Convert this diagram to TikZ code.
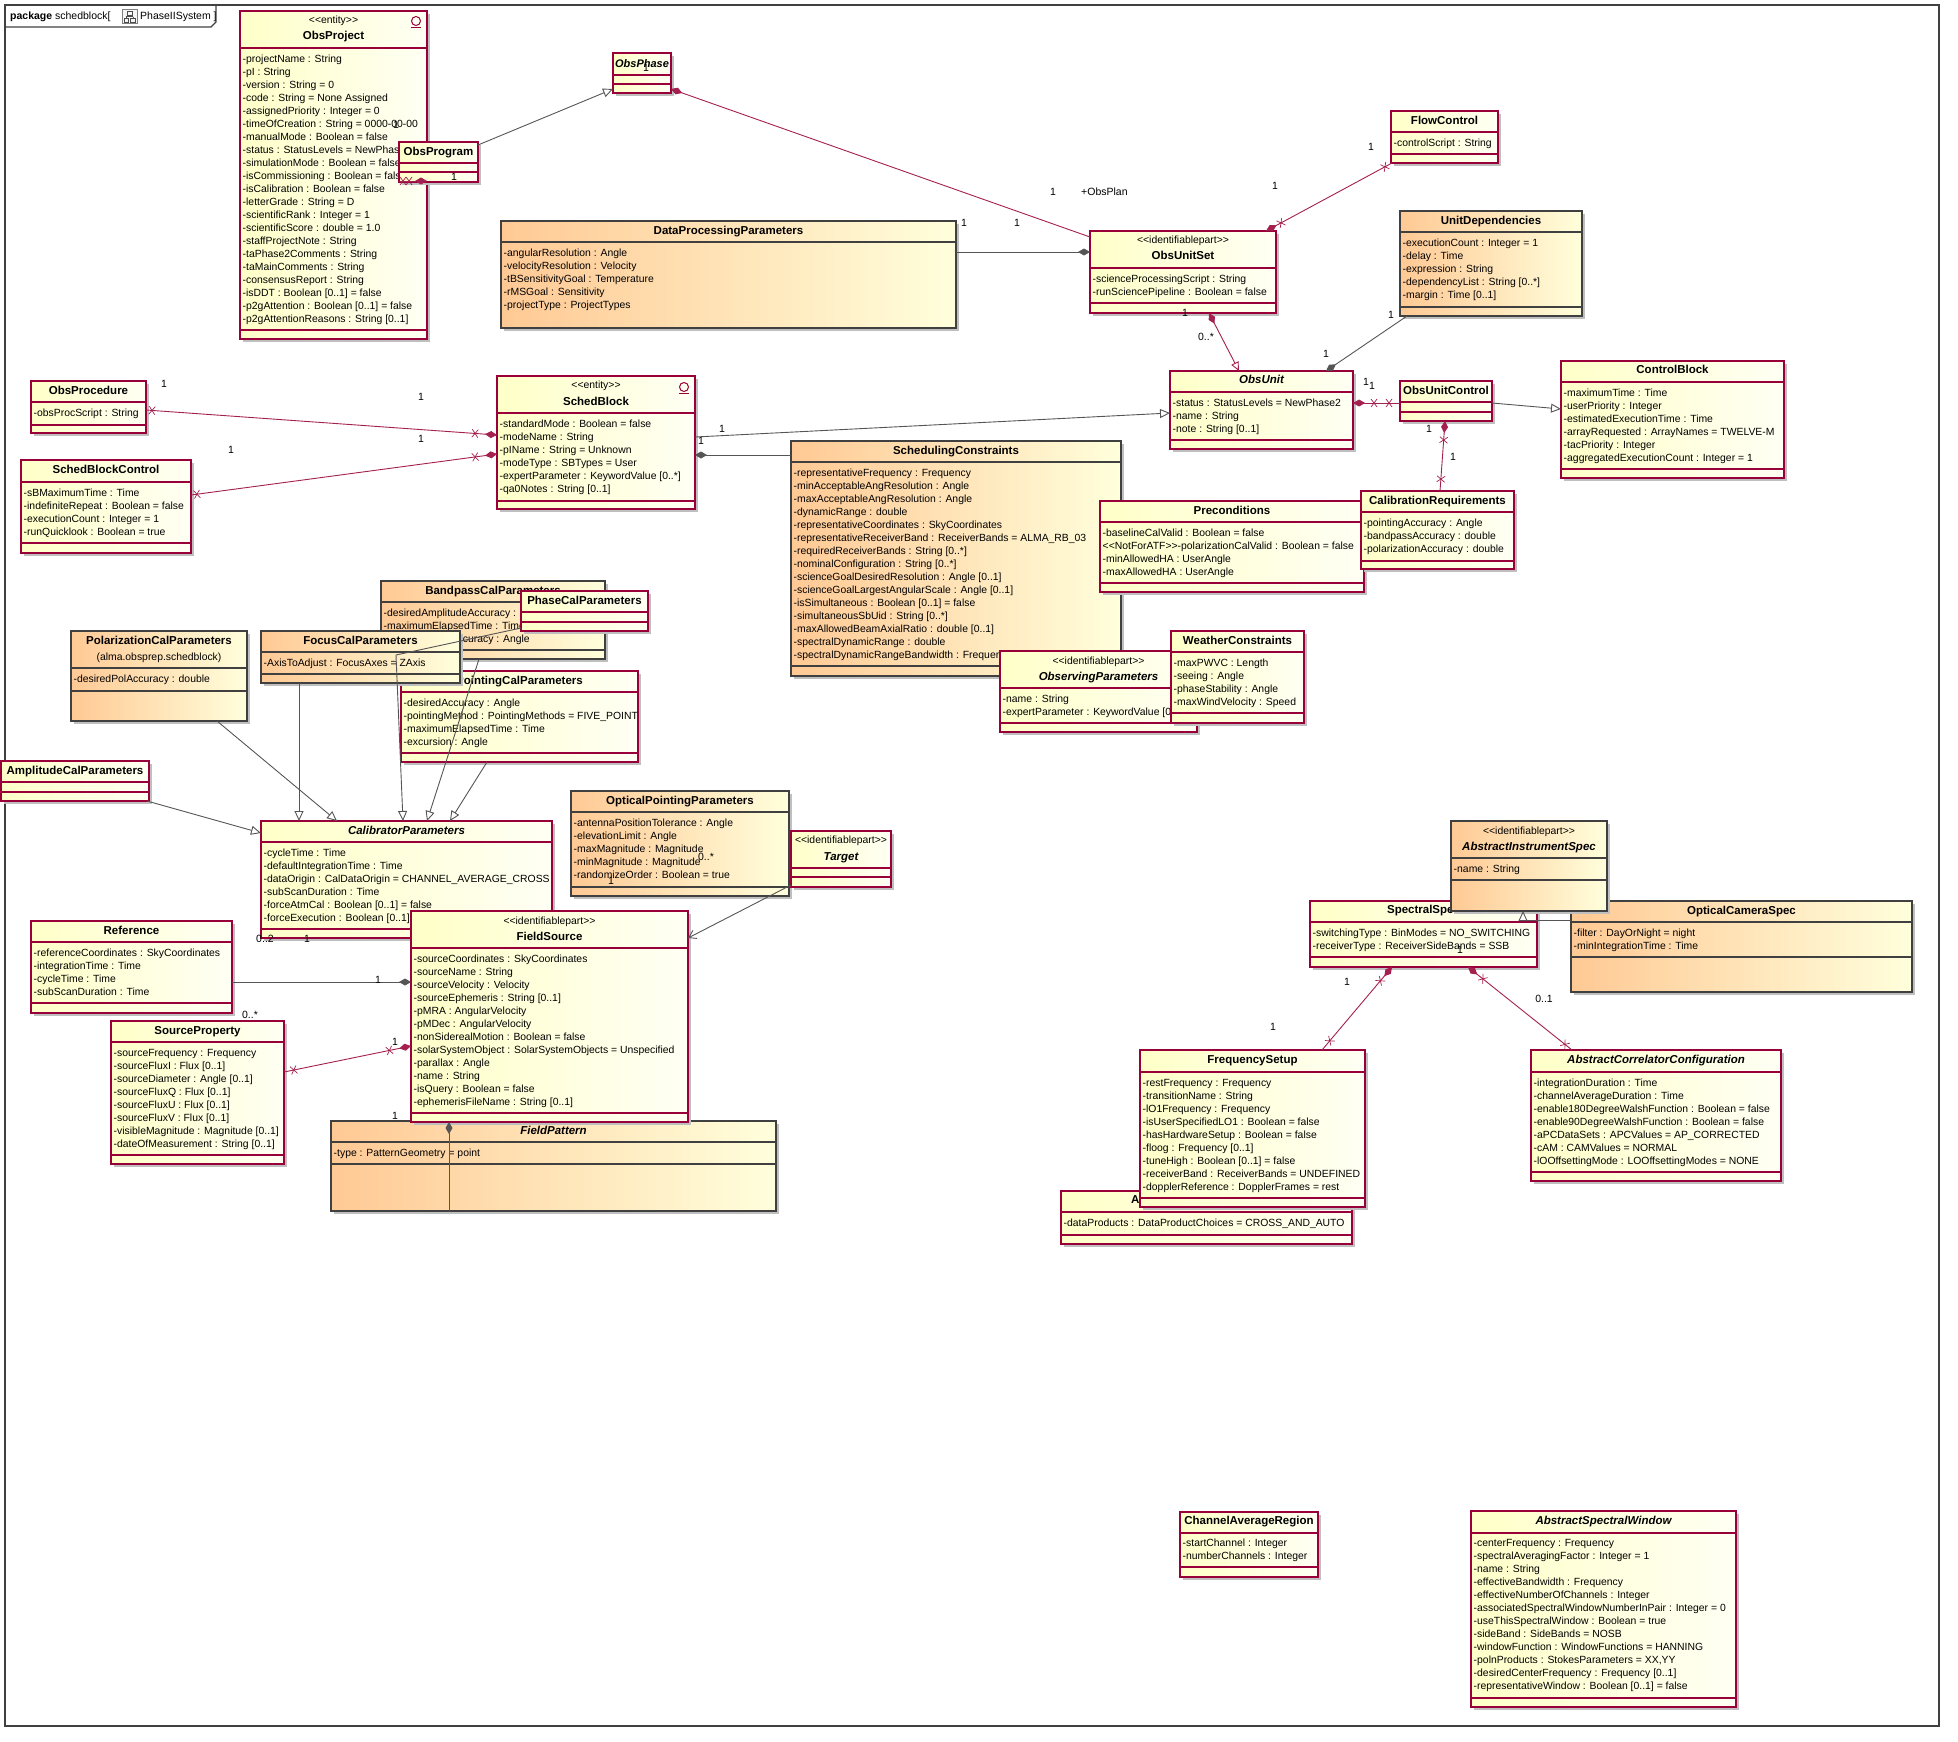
\documentclass[tikz,border=0pt]{standalone}
\usepackage{fontspec}
\setmainfont{Liberation Sans}
\usetikzlibrary{arrows.meta,shadows,decorations.markings}
\definecolor{ured}{HTML}{99003A}
\definecolor{ugray}{HTML}{404040}
\definecolor{lred}{HTML}{A3204F}
\definecolor{lgray}{HTML}{555555}
\definecolor{yelA}{HTML}{FFFFC8}
\definecolor{yelB}{HTML}{FFFFF4}
\definecolor{orA}{HTML}{FFC994}
\definecolor{orB}{HTML}{FFFFDC}
\tikzset{
 shd/.style={drop shadow={shadow xshift=3pt,shadow yshift=-3pt,fill=black!25,opacity=1}},
 ybox/.style={draw=ured,line width=1.3pt,left color=yelA,right color=yelB,inner sep=0pt,outer sep=0pt,shd},
 obox/.style={draw=ugray,line width=1.3pt,left color=orA,right color=orB,inner sep=0pt,outer sep=0pt,shd},
 ysep/.style={draw=ured,line width=1.3pt},
 osep/.style={draw=ugray,line width=1.3pt},
 attr/.style={anchor=base west,inner sep=0pt,xshift=2.5pt,yshift=-4pt,font=\fontsize{10.4}{13}\selectfont},
 cn/.style={anchor=base,inner sep=0pt,yshift=-4pt,font=\fontsize{11.5}{13}\selectfont\bfseries},
 ster/.style={anchor=base,inner sep=0pt,yshift=-3.5pt,font=\fontsize{10.4}{13}\selectfont},
 lbl/.style={inner sep=0pt,font=\fontsize{10.5}{13}\selectfont},
 rl/.style={draw=lred,line width=0.9pt},
 gl/.style={draw=lgray,line width=0.9pt},
 gen/.style={-{Triangle[length=10pt,width=9pt,fill=white]}},
 ds/.style={{Diamond[length=12pt,width=7pt]}-},
 de/.style={-{Diamond[length=12pt,width=7pt]}},
 xm/.style={postaction={decorate,decoration={markings,mark=at position #1 with {\draw[-,lred,line width=0.7pt] (-3pt,-4pt)--(3pt,4pt) (-3pt,4pt)--(3pt,-4pt);}}}},
}
\newcommand{\umlbox}[6]{\node[#2box,anchor=north west,minimum width={#5-#3},minimum height={#6-#4}] (#1) at (#3,#4) {};}
\newcommand{\umlseps}[3]{\foreach \sy in {#3} {\draw[#2sep] (#1.west |- 0,\sy) -- (#1.east |- 0,\sy);}}
\newcommand{\umlname}[3]{\node[cn] (#1n) at (#1.north |- 0,#2) {#3};}
\newcommand{\umlster}[3]{\node[ster] (#1s) at (#1.north |- 0,#2) {#3};}
\newcommand{\umlattrs}[3]{\foreach \atx [count=\ati] in {#3} {\pgfmathsetmacro\yy{#2+13*(\ati-1)}\node[attr] (#1a\ati) at (#1.west |- 0,\yy) {\atx};}}
\newcommand{\enticon}[3]{\draw[ured,line width=1pt] (#2,#3) circle[radius=4.5pt]; \draw[ured,line width=1pt] (#2-5,#3+6) -- (#2+5,#3+6); \coordinate (#1) at (#2,#3);}
\begin{document}
\begin{tikzpicture}[x=1pt,y=-1pt]
\useasboundingbox (0,0) rectangle (1958,1741);
% frame
\draw[ugray,line width=1.3pt] (5,5) rectangle (1939,1726);
\draw[ugray,line width=1.3pt] (5,27) -- (211,27) -- (216,22) -- (216,5);
\node[anchor=base west,inner sep=0pt,font=\fontsize{10.5}{13}\selectfont] (pkg) at (10,19) {\textbf{package} schedblock[};
\draw[gray,fill=gray!8,line width=0.6pt] (122,9) rectangle (137,23);
\draw[gray!60!black,line width=0.6pt] (127,11) rectangle (132,15) (124,18) rectangle (128.5,22) (130.5,18) rectangle (135,22) (129.5,15) -- (129.5,16.5) (126,16.5) -- (133,16.5) (126,16.5) -- (126,18) (133,16.5) -- (133,18);
\node[anchor=base west,inner sep=0pt,font=\fontsize{10.5}{13}\selectfont] (pkg2) at (140,19) {PhaseIISystem ]};

% ObsProject
\umlbox{obsproject}{y}{240}{11}{427}{339}
\umlster{obsproject}{20}{<{}<entity>{}>}
\umlname{obsproject}{35}{ObsProject}
\enticon{ic1}{416}{21}
\umlseps{obsproject}{y}{48,330}
\umlattrs{obsproject}{58}{-projectName : String, -pI : String, -version : String = 0, -code : String = None Assigned, -assignedPriority : Integer = 0, -timeOfCreation : String = 0000-00-00, -manualMode : Boolean = false, -status : StatusLevels = NewPhase2, -simulationMode : Boolean = false, -isCommissioning : Boolean = false, -isCalibration : Boolean = false, -letterGrade : String = D, -scientificRank : Integer = 1, -scientificScore : double = 1.0, -staffProjectNote : String, -taPhase2Comments : String, -taMainComments : String, -consensusReport : String, -isDDT : Boolean [0..1] = false, -p2gAttention : Boolean [0..1] = false, -p2gAttentionReasons : String [0..1]}
% ObsProgram
\umlbox{obsprogram}{y}{399}{142}{478}{182}
\umlname{obsprogram}{151}{ObsProgram}
\umlseps{obsprogram}{y}{163,172}
% ObsPhase
\umlbox{obsphase}{y}{613}{53}{671}{93}
\node[cn,font=\fontsize{11}{13}\selectfont\bfseries\itshape] (obsphasen) at (obsphase.north |- 0,63) {ObsPhase};
\umlseps{obsphase}{y}{75,84}
% DataProcessingParameters
\umlbox{dpp}{o}{501}{221}{956}{328}
\umlname{dpp}{230}{DataProcessingParameters}
\umlseps{dpp}{o}{242}
\umlattrs{dpp}{252}{-angularResolution : Angle, -velocityResolution : Velocity, -tBSensitivityGoal : Temperature, -rMSGoal : Sensitivity, -projectType : ProjectTypes}
% ObsUnitSet
\umlbox{obsunitset}{y}{1090}{231}{1276}{313}
\umlster{obsunitset}{240}{<{}<identifiablepart>{}>}
\umlname{obsunitset}{255}{ObsUnitSet}
\umlseps{obsunitset}{y}{268,303}
\umlattrs{obsunitset}{278}{-scienceProcessingScript : String, -runSciencePipeline : Boolean = false}
% FlowControl
\umlbox{flowcontrol}{y}{1391}{111}{1498}{163}
\umlname{flowcontrol}{120}{FlowControl}
\umlseps{flowcontrol}{y}{132,154}
\umlattrs{flowcontrol}{142}{-controlScript : String}
% UnitDependencies
\umlbox{ud}{o}{1400}{211}{1582}{316}
\umlname{ud}{220}{UnitDependencies}
\umlseps{ud}{o}{232,307}
\umlattrs{ud}{242}{-executionCount : Integer = 1, -delay : Time, -expression : String, -dependencyList : String [0..*], -margin : Time [0..1]}
% ObsUnit
\umlbox{obsunit}{y}{1170}{371}{1353}{449}
\umlname{obsunit}{379}{\itshape ObsUnit}
\umlseps{obsunit}{y}{392,440}
\umlattrs{obsunit}{402}{-status : StatusLevels = NewPhase2, -name : String, -note : String [0..1]}
% ObsUnitControl
\umlbox{ouc}{y}{1400}{381}{1492}{421}
\umlname{ouc}{390}{ObsUnitControl}
\umlseps{ouc}{y}{402,412}
% ControlBlock
\umlbox{controlblock}{y}{1561}{361}{1784}{478}
\umlname{controlblock}{369}{ControlBlock}
\umlseps{controlblock}{y}{382,469}
\umlattrs{controlblock}{392}{-maximumTime : Time, -userPriority : Integer, -estimatedExecutionTime : Time, -arrayRequested : ArrayNames = TWELVE-M, -tacPriority : Integer, -aggregatedExecutionCount : Integer = 1}
% SchedulingConstraints
\umlbox{schedconstr}{o}{791}{441}{1121}{676}
\umlname{schedconstr}{450}{SchedulingConstraints}
\umlseps{schedconstr}{o}{462,666}
\umlattrs{schedconstr}{472}{-representativeFrequency : Frequency, -minAcceptableAngResolution : Angle, -maxAcceptableAngResolution : Angle, -dynamicRange : double, -representativeCoordinates : SkyCoordinates, -representativeReceiverBand : ReceiverBands = ALMA\_RB\_03, -requiredReceiverBands : String [0..*], -nominalConfiguration : String [0..*], -scienceGoalDesiredResolution : Angle [0..1], -scienceGoalLargestAngularScale : Angle [0..1], -isSimultaneous : Boolean [0..1] = false, -simultaneousSbUid : String [0..*], -maxAllowedBeamAxialRatio : double [0..1], -spectralDynamicRange : double, -spectralDynamicRangeBandwidth : Frequency [0..1]}
% Preconditions
\umlbox{preconditions}{y}{1100}{501}{1364}{592}
\umlname{preconditions}{510}{Preconditions}
\umlseps{preconditions}{y}{522,583}
\umlattrs{preconditions}{532}{-baselineCalValid : Boolean = false, <{}<NotForATF>{}>-polarizationCalValid : Boolean = false, -minAllowedHA : UserAngle, -maxAllowedHA : UserAngle}
% CalibrationRequirements
\umlbox{calreq}{y}{1361}{491}{1514}{569}
\umlname{calreq}{500}{CalibrationRequirements}
\umlseps{calreq}{y}{512,561}
\umlattrs{calreq}{522}{-pointingAccuracy : Angle, -bandpassAccuracy : double, -polarizationAccuracy : double}
% ObservingParameters
\umlbox{obsparams}{y}{1000}{651}{1197}{732}
\umlster{obsparams}{661}{<{}<identifiablepart>{}>}
\umlname{obsparams}{676}{\itshape ObservingParameters}
\umlseps{obsparams}{y}{688,723}
\umlattrs{obsparams}{698}{-name : String, -expertParameter : KeywordValue [0..*]}
% WeatherConstraints
\umlbox{weather}{y}{1171}{631}{1304}{723}
\umlname{weather}{640}{WeatherConstraints}
\umlseps{weather}{y}{652,713}
\umlattrs{weather}{662}{-maxPWVC : Length, -seeing : Angle, -phaseStability : Angle, -maxWindVelocity : Speed}
% SchedBlock
\umlbox{schedblock}{y}{497}{376}{695}{509}
\umlster{schedblock}{385}{<{}<entity>{}>}
\umlname{schedblock}{401}{SchedBlock}
\enticon{ic2}{684}{387}
\umlseps{schedblock}{y}{413,501}
\umlattrs{schedblock}{423}{-standardMode : Boolean = false, -modeName : String, -pIName : String = Unknown, -modeType : SBTypes = User, -expertParameter : KeywordValue [0..*], -qa0Notes : String [0..1]}
% ObsProcedure
\umlbox{obsprocedure}{y}{31}{381}{146}{433}
\umlname{obsprocedure}{390}{ObsProcedure}
\umlseps{obsprocedure}{y}{402,425}
\umlattrs{obsprocedure}{412}{-obsProcScript : String}
% SchedBlockControl
\umlbox{sbc}{y}{21}{460}{191}{553}
\umlname{sbc}{469}{SchedBlockControl}
\umlseps{sbc}{y}{482,543}
\umlattrs{sbc}{492}{-sBMaximumTime : Time, -indefiniteRepeat : Boolean = false, -executionCount : Integer = 1, -runQuicklook : Boolean = true}
% BandpassCalParameters
\umlbox{bandpass}{o}{381}{581}{605}{659}
\umlname{bandpass}{590}{BandpassCalParameters}
\umlseps{bandpass}{o}{602,650}
\umlattrs{bandpass}{612}{-desiredAmplitudeAccuracy : double, -maximumElapsedTime : Time, -desiredPhaseAccuracy : Angle}
% PhaseCalParameters
\umlbox{phasecal}{y}{521}{591}{648}{631}
\umlname{phasecal}{600}{PhaseCalParameters}
\umlseps{phasecal}{y}{612,622}
% PointingCalParameters
\umlbox{pointing}{y}{401}{671}{638}{762}
\umlname{pointing}{680}{PointingCalParameters}
\umlseps{pointing}{y}{692,753}
\umlattrs{pointing}{702}{-desiredAccuracy : Angle, -pointingMethod : PointingMethods = FIVE\_POINT, -maximumElapsedTime : Time, -excursion : Angle}
% FocusCalParameters
\umlbox{focus}{o}{261}{631}{460}{683}
\umlname{focus}{640}{FocusCalParameters}
\umlseps{focus}{o}{652,674}
\umlattrs{focus}{662}{-AxisToAdjust : FocusAxes = ZAxis}
% PolarizationCalParameters
\umlbox{polarization}{o}{71}{631}{247}{721}
\umlname{polarization}{640}{PolarizationCalParameters}
\node[ster,yshift=-0.5pt] (polarizationp) at (polarization.north |- 0,656) {(alma.obsprep.schedblock)};
\umlseps{polarization}{o}{668,691}
\umlattrs{polarization}{678}{-desiredPolAccuracy : double}
% AmplitudeCalParameters
\umlbox{amp}{y}{1}{761}{149}{801}
\umlname{amp}{770}{AmplitudeCalParameters}
\umlseps{amp}{y}{782,792}
% CalibratorParameters
\umlbox{calib}{y}{261}{821}{552}{938}
\umlname{calib}{830}{\itshape CalibratorParameters}
\umlseps{calib}{y}{842,929}
\umlattrs{calib}{852}{-cycleTime : Time, -defaultIntegrationTime : Time, -dataOrigin : CalDataOrigin = CHANNEL\_AVERAGE\_CROSS, -subScanDuration : Time, -forceAtmCal : Boolean [0..1] = false, -forceExecution : Boolean [0..1] = false}
% FieldPattern
\umlbox{fieldpattern}{o}{331}{1121}{776}{1211}
\umlname{fieldpattern}{1130}{\itshape FieldPattern}
\umlseps{fieldpattern}{o}{1142,1164}
\umlattrs{fieldpattern}{1152}{-type : PatternGeometry = point}
% FieldSource
\umlbox{fieldsource}{y}{411}{911}{688}{1122}
\umlster{fieldsource}{921}{<{}<identifiablepart>{}>}
\umlname{fieldsource}{936}{FieldSource}
\umlseps{fieldsource}{y}{948,1113}
\umlattrs{fieldsource}{958}{-sourceCoordinates : SkyCoordinates, -sourceName : String, -sourceVelocity : Velocity, -sourceEphemeris : String [0..1], -pMRA : AngularVelocity, -pMDec : AngularVelocity, -nonSiderealMotion : Boolean = false, -solarSystemObject : SolarSystemObjects = Unspecified, -parallax : Angle, -name : String, -isQuery : Boolean = false, -ephemerisFileName : String [0..1]}
% Reference
\umlbox{reference}{y}{31}{921}{232}{1013}
\umlname{reference}{930}{Reference}
\umlseps{reference}{y}{942,1003}
\umlattrs{reference}{952}{-referenceCoordinates : SkyCoordinates, -integrationTime : Time, -cycleTime : Time, -subScanDuration : Time}
% SourceProperty
\umlbox{sourceprop}{y}{111}{1021}{284}{1164}
\umlname{sourceprop}{1030}{SourceProperty}
\umlseps{sourceprop}{y}{1042,1155}
\umlattrs{sourceprop}{1052}{-sourceFrequency : Frequency, -sourceFluxI : Flux [0..1], -sourceDiameter : Angle [0..1], -sourceFluxQ : Flux [0..1], -sourceFluxU : Flux [0..1], -sourceFluxV : Flux [0..1], -visibleMagnitude : Magnitude [0..1], -dateOfMeasurement : String [0..1]}
% OpticalPointingParameters
\umlbox{opp}{o}{571}{791}{789}{896}
\umlname{opp}{800}{OpticalPointingParameters}
\umlseps{opp}{o}{812,887}
\umlattrs{opp}{822}{-antennaPositionTolerance : Angle, -elevationLimit : Angle, -maxMagnitude : Magnitude, -minMagnitude : Magnitude, -randomizeOrder : Boolean = true}
% Target
\umlbox{target}{y}{791}{831}{891}{887}
\umlster{target}{840}{<{}<identifiablepart>{}>}
\umlname{target}{856}{\itshape Target}
\umlseps{target}{y}{868,877}
% SpectralSpec
\umlbox{spectralspec}{y}{1310}{901}{1537}{967}
\umlname{spectralspec}{909}{SpectralSpec}
\umlseps{spectralspec}{y}{922,957}
\umlattrs{spectralspec}{932}{-switchingType : BinModes = NO\_SWITCHING, -receiverType : ReceiverSideBands = SSB}
% OpticalCameraSpec
\umlbox{ocs}{o}{1571}{901}{1912}{992}
\umlname{ocs}{910}{OpticalCameraSpec}
\umlseps{ocs}{o}{922,957}
\umlattrs{ocs}{932}{-filter : DayOrNight = night, -minIntegrationTime : Time}
% AbstractInstrumentSpec
\umlbox{ais}{o}{1451}{821}{1607}{911}
\umlster{ais}{831}{<{}<identifiablepart>{}>}
\umlname{ais}{846}{\itshape AbstractInstrumentSpec}
\umlseps{ais}{o}{858,880}
\umlattrs{ais}{868}{-name : String}
% hidden box
\umlbox{abox}{y}{1061}{1191}{1352}{1244}
\node[cn,anchor=base west] (aboxn) at (1131,1199) {A};
\umlseps{abox}{y}{1212,1235}
\umlattrs{abox}{1222}{-dataProducts : DataProductChoices = CROSS\_AND\_AUTO}
% FrequencySetup
\umlbox{freqsetup}{y}{1140}{1050}{1365}{1207}
\umlname{freqsetup}{1059}{FrequencySetup}
\umlseps{freqsetup}{y}{1072,1198}
\umlattrs{freqsetup}{1082}{-restFrequency : Frequency, -transitionName : String, -lO1Frequency : Frequency, -isUserSpecifiedLO1 : Boolean = false, -hasHardwareSetup : Boolean = false, -floog : Frequency [0..1], -tuneHigh : Boolean [0..1] = false, -receiverBand : ReceiverBands = UNDEFINED, -dopplerReference : DopplerFrames = rest}
% AbstractCorrelatorConfiguration
\umlbox{acc}{y}{1531}{1050}{1781}{1181}
\umlname{acc}{1059}{\itshape AbstractCorrelatorConfiguration}
\umlseps{acc}{y}{1072,1172}
\umlattrs{acc}{1082}{-integrationDuration : Time, -channelAverageDuration : Time, -enable180DegreeWalshFunction : Boolean = false, -enable90DegreeWalshFunction : Boolean = false, -aPCDataSets : APCValues = AP\_CORRECTED, -cAM : CAMValues = NORMAL, -lOOffsettingMode : LOOffsettingModes = NONE}
% ChannelAverageRegion
\umlbox{car}{y}{1180}{1512}{1318}{1577}
\umlname{car}{1520}{ChannelAverageRegion}
\umlseps{car}{y}{1533,1567}
\umlattrs{car}{1542}{-startChannel : Integer, -numberChannels : Integer}
% AbstractSpectralWindow
\umlbox{asw}{y}{1471}{1511}{1736}{1707}
\umlname{asw}{1520}{\itshape AbstractSpectralWindow}
\umlseps{asw}{y}{1533,1698}
\umlattrs{asw}{1542}{-centerFrequency : Frequency, -spectralAveragingFactor : Integer = 1, -name : String, -effectiveBandwidth : Frequency, -effectiveNumberOfChannels : Integer, -associatedSpectralWindowNumberInPair : Integer = 0, -useThisSpectralWindow : Boolean = true, -sideBand : SideBands = NOSB, -windowFunction : WindowFunctions = HANNING, {-polnProducts : StokesParameters = XX,YY}, -desiredCenterFrequency : Frequency [0..1], -representativeWindow : Boolean [0..1] = false}

% ---------------- connectors
\draw[rl,de,xm=4pt,xm=10pt] (obsprogram.west |- 0,181) -- (obsproject.east |- 0,181);
\draw[gl,gen] (obsprogram.east |- 0,145) -- (obsphase.west |- 0,89);
\draw[rl,ds] (obsphase.east |- 0,89) -- (obsunitset.west |- 0,237);
\draw[gl,de] (dpp.east |- 0,252) -- (obsunitset.west |- 0,252);
\draw[rl,de,xm=8pt,xm=-17pt] (1392,0 |- flowcontrol.south) -- (1266,0 |- obsunitset.north);
\draw[gl,de] (1407,0 |- ud.south) -- (1326,0 |- obsunit.north);
\draw[rl,{Diamond[length=12pt,width=7pt]}-{Triangle[open,length=9pt,width=8pt]}] (1209,0 |- obsunitset.south) -- (1239,0 |- obsunit.north);
\draw[gl,gen] (schedblock.east |- 0,437) -- (obsunit.west |- 0,413);
\draw[gl,ds] (schedblock.east |- 0,455) -- (schedconstr.west |- 0,455);
\draw[rl,ds,xm=21pt,xm=36pt] (obsunit.east |- 0,403) -- (ouc.west |- 0,403);
\draw[gl,gen] (ouc.east |- 0,403) -- (controlblock.west |- 0,409);
\draw[rl,ds,xm=19pt,xm=-12pt] (1445,0 |- ouc.south) -- (1440,0 |- calreq.north);
\draw[rl,de,xm=6pt,xm=-22pt] (obsprocedure.east |- 0,410) -- (schedblock.west |- 0,435);
\draw[rl,de,xm=6pt,xm=-22pt] (sbc.east |- 0,495) -- (schedblock.west |- 0,454);
\draw[gl,gen] (147,0 |- amp.south) -- (calib.west |- 0,833);
\draw[gl,gen] (217,0 |- polarization.south) -- (337,0 |- calib.north);
\draw[gl,gen] (299,0 |- focus.south) -- (299,0 |- calib.north);
\coordinate (pcbend) at (396,655);
\draw[gl,gen] (phasecal.west |- 0,628) -- (pcbend) -- (403,0 |- calib.north);
\draw[gl,gen] (479,0 |- bandpass.south) -- (427,0 |- calib.north);
\draw[gl,gen] (487,0 |- pointing.south) -- (450,0 |- calib.north);
\draw[gl,-{Straight Barb[length=7pt,width=9pt]}] (target.west |- 0,885) -- (fieldsource.east |- 0,938);
\draw[gl,de] (reference.east |- 0,982) -- (fieldsource.west |- 0,982);
\draw[rl,de,xm=10pt,xm=-22pt] (sourceprop.east |- 0,1072) -- (fieldsource.west |- 0,1046);
\draw[gl,ds] (449,0 |- fieldsource.south) -- (449,0 |- fieldpattern.south);
\draw[gl,gen] (ocs.west |- 0,920) -| (1523,0 |- ais.south);
\draw[rl,ds,xm=18pt,xm=-12pt] (1392,0 |- spectralspec.south) -- (1322,0 |- freqsetup.north);
\draw[rl,ds,xm=19pt,xm=-9pt] (1468,0 |- spectralspec.south) -- (1572,0 |- acc.north);

% ---------------- multiplicity labels
\node[lbl] (m1) at (396,125) {1};
\node[lbl] (m2) at (454,177) {1};
\node[lbl] (m3) at (646,68) {1};
\node[lbl] (m4) at (1053,192) {1};
\node[lbl,anchor=west] (m5) at (1081,192) {+ObsPlan};
\node[lbl] (m6) at (964,223) {1};
\node[lbl] (m7) at (1017,223) {1};
\node[lbl] (m8) at (1371,147) {1};
\node[lbl] (m9) at (1275,186) {1};
\node[lbl] (m10) at (1185,313) {1};
\node[lbl] (m11) at (1206,337) {0..*};
\node[lbl] (m12) at (1391,315) {1};
\node[lbl] (m13) at (1326,354) {1};
\node[lbl] (m14) at (1366,382) {1};
\node[lbl] (m15) at (1372,386) {1};
\node[lbl] (m16) at (1429,429) {1};
\node[lbl] (m17) at (1453,457) {1};
\node[lbl] (m18) at (701,441) {1};
\node[lbl] (m19) at (722,429) {1};
\node[lbl] (m20) at (164,384) {1};
\node[lbl] (m21) at (421,397) {1};
\node[lbl] (m22) at (231,450) {1};
\node[lbl] (m23) at (421,439) {1};
\node[lbl] (m24) at (265,939) {0..2};
\node[lbl] (m25) at (307,939) {1};
\node[lbl] (m26) at (706,857) {0..*};
\node[lbl] (m27) at (611,881) {1};
\node[lbl] (m28) at (378,980) {1};
\node[lbl] (m29) at (250,1015) {0..*};
\node[lbl] (m30) at (395,1042) {1};
\node[lbl] (m31) at (395,1116) {1};
\node[lbl] (m32) at (1460,950) {1};
\node[lbl] (m33) at (1347,982) {1};
\node[lbl] (m34) at (1273,1027) {1};
\node[lbl] (m35) at (1544,999) {0..1};
\end{tikzpicture}
\end{document}
